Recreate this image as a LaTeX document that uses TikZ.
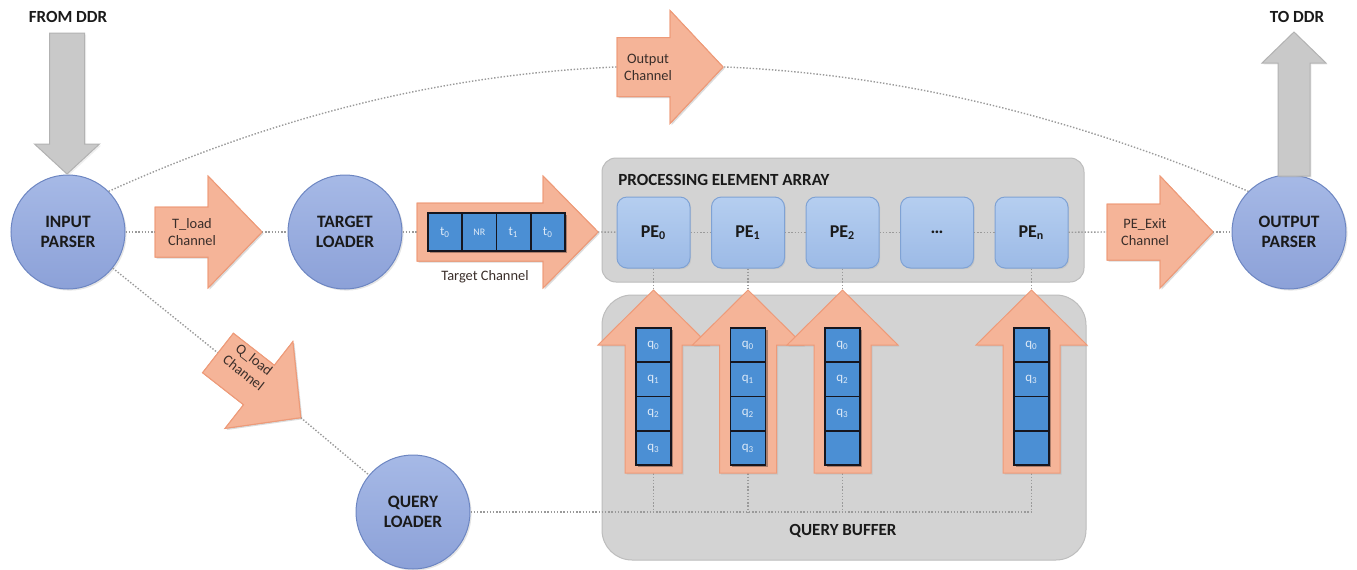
\documentclass[tikz,border=0pt]{standalone}
\usepackage{fontspec}
\setmainfont{Carlito}
\usetikzlibrary{shadows,calc}
\definecolor{oraFill}{HTML}{F5B498}
\definecolor{oraEdge}{HTML}{EE9A78}
\definecolor{cirTop}{HTML}{A6B9E6}
\definecolor{cirBot}{HTML}{8CA1D8}
\definecolor{cirEdge}{HTML}{6D86C2}
\definecolor{peTop}{HTML}{B5CEF0}
\definecolor{peBot}{HTML}{9CBAE6}
\definecolor{peEdge}{HTML}{7FA2D4}
\definecolor{boxFill}{HTML}{D3D3D3}
\definecolor{boxEdge}{HTML}{BDBDBD}
\definecolor{cellFill}{HTML}{4B8FD4}
\definecolor{cellEdge}{HTML}{16161F}
\definecolor{cellText}{HTML}{DCE9F7}
\definecolor{gryFill}{HTML}{C9C9C9}
\definecolor{gryEdge}{HTML}{B2B2B2}
\definecolor{dotCol}{HTML}{9A9A9A}
\definecolor{txt}{HTML}{1A1A1A}
\definecolor{lbltxt}{HTML}{3A2E2A}

\newcommand\chanarrow[8]{%
  \begin{scope}[shift={#2},rotate=#3]
    \path[#8] (0,-#6) -- (#4-#5,-#6) -- (#4-#5,-#7) -- (#4,0) -- (#4-#5,#7) -- (#4-#5,#6) -- (0,#6) -- cycle;
    \coordinate (#1-tail) at (0,0);
    \coordinate (#1-tip) at (#4,0);
  \end{scope}}

\tikzset{
  x=0.5pt, y=-0.5pt,
  dotline/.style={draw=dotCol, line width=0.7pt, dash pattern=on 0.7pt off 0.9pt},
  orarrow/.style={fill=oraFill, draw=oraEdge, line width=0.5pt,
    drop shadow={opacity=0.15, shadow xshift=0.8pt, shadow yshift=-0.8pt}},
  gryarrow/.style={fill=gryFill, draw=gryEdge, line width=0.5pt,
    drop shadow={opacity=0.12, shadow xshift=0.8pt, shadow yshift=-0.8pt}},
  circ/.style={circle, minimum size=57pt, inner sep=0pt, top color=cirTop, bottom color=cirBot,
    draw=cirEdge, line width=0.5pt, align=center, text=txt,
    font=\fontsize{8.7}{10.2}\selectfont\bfseries,
    drop shadow={opacity=0.2, shadow xshift=0.8pt, shadow yshift=-0.8pt}},
  pebox/.style={rectangle, rounded corners=5pt, minimum width=36.5pt, minimum height=35.5pt,
    top color=peTop, bottom color=peBot, draw=peEdge, line width=0.5pt, text=txt,
    font=\fontsize{9}{10}\selectfont\bfseries,
    drop shadow={opacity=0.15, shadow xshift=0.6pt, shadow yshift=-0.6pt}},
  greybox/.style={fill=boxFill, draw=boxEdge, line width=0.5pt},
  cell/.style={rectangle, fill=cellFill, draw=cellEdge, line width=0.8pt, inner sep=0pt,
    text=cellText, font=\fontsize{6.5}{7}\selectfont},
  hcell/.style={cell, minimum width=17.1pt, minimum height=19pt},
  vcell/.style={cell, minimum width=17.5pt, minimum height=17.1pt},
  chlabel/.style={align=center, text=lbltxt, font=\fontsize{7.2}{8.6}\selectfont, inner sep=0pt},
  title/.style={text=txt, font=\fontsize{8.5}{10}\selectfont\bfseries, inner sep=0pt},
  cellshadow/.style={fill=black, opacity=0.3},
}

\begin{document}
\begin{tikzpicture}
\useasboundingbox[fill=white] (0,0) rectangle (1357,569);

% grey containers
\path[greybox, rounded corners=7pt] (602,158) rectangle (1084,282);
\path[greybox, rounded corners=15pt] (602,295) rectangle (1086,560);
\node[title, anchor=west] (petitle) at (618,180) {PROCESSING ELEMENT ARRAY};
\node[title] (qbtitle) at (843,531) {QUERY BUFFER};

% main nodes
\node[circ] (ip) at (68,232) {INPUT\\PARSER};
\node[circ] (tl) at (345,232) {TARGET\\LOADER};
\node[circ] (ql) at (413,512) {QUERY\\LOADER};
\node[circ] (op) at (1289,232) {OUTPUT\\PARSER};

\node[pebox] (pe0) at (653.5,232.5) {PE\textsubscript{0}};
\node[pebox] (pe1) at (748,232.5) {PE\textsubscript{1}};
\node[pebox] (pe2) at (842.5,232.5) {PE\textsubscript{2}};
\node[pebox] (pe3) at (937,232.5) {\dots};
\node[pebox] (pen) at (1031.5,232.5) {PE\textsubscript{n}};

% channel arrow coordinates (shapes drawn again above the connectors)
\chanarrow{ta}{(155,232)}{0}{107}{54}{25}{56}{orarrow}
\chanarrow{tc}{(417,232)}{0}{181}{55}{29}{56}{orarrow}
\chanarrow{ea}{(1107,232)}{0}{106}{53}{28}{56}{orarrow}
\chanarrow{oc}{(617,67)}{0}{106}{53}{29.5}{56.5}{orarrow}
\chanarrow{qa}{(218,353)}{-38}{105}{53}{25}{55}{orarrow}
% DDR arrows
\chanarrow{fd}{(67,33)}{-90}{141}{30}{17.5}{32.5}{gryarrow}
\chanarrow{td}{(1294,176)}{90}{144}{31}{16}{32}{gryarrow}

\coordinate (qb) at (1031.5,512);

% dotted connectors
\draw[dotline] (ip.45) .. controls (478,24) and (857,24) .. (op.135);
\draw[dotline] (ip) -- (ta-tail);
\draw[dotline] (ta-tip) -- (tl);
\draw[dotline] (tl) -- (tc-tail);
\draw[dotline] (tc-tip) -- (pe0);
\draw[dotline] (pe0) -- (pe1);
\draw[dotline] (pe1) -- (pe2);
\draw[dotline] (pe2) -- (pe3);
\draw[dotline] (pe3) -- (pen);
\draw[dotline] (pen) -- (ea-tail);
\draw[dotline] (ea-tip) -- (op);
\draw[dotline] (ip) -- (qa-tail);
\draw[dotline] (qa-tip) -- (ql);
\draw[dotline] (ql) -- (qb);
\draw[dotline] (pe0.south) -- (pe0.south |- qb);
\draw[dotline] (pe1.south) -- (pe1.south |- qb);
\draw[dotline] (pe2.south) -- (pe2.south |- qb);
\draw[dotline] (pen.south) -- (qb);

% arrows above the dotted lines
\chanarrow{ta}{(155,232)}{0}{107}{54}{25}{56}{orarrow}
\chanarrow{tc}{(417,232)}{0}{181}{55}{29}{56}{orarrow}
\chanarrow{ea}{(1107,232)}{0}{106}{53}{28}{56}{orarrow}
\chanarrow{oc}{(617,67)}{0}{106}{53}{29.5}{56.5}{orarrow}
\chanarrow{qa}{(218,353)}{-38}{105}{53}{25}{55}{orarrow}
\chanarrow{q0}{(653.5,473)}{90}{183}{55}{28.5}{55.5}{orarrow}
\chanarrow{q1}{(748,473)}{90}{183}{55}{28.5}{55.5}{orarrow}
\chanarrow{q2}{(842.5,473)}{90}{183}{55}{28.5}{55.5}{orarrow}
\chanarrow{qn}{(1031.5,473)}{90}{183}{55}{28.5}{55.5}{orarrow}

% labels
\node[chlabel] (tal) at (192,232) {T\_load\\Channel};
\node[chlabel] (eal) at (1145,232) {PE\_Exit\\Channel};
\node[chlabel] (ocl) at (648,67) {Output\\Channel};
\node[chlabel, rotate=-38] (qal) at (249,366) {Q\_load\\Channel};
\node[chlabel] (tcl) at (485,277) {Target Channel};
\node[title] (fromddr) at (68,17) {FROM DDR};
\node[title] (toddr) at (1297,17) {TO DDR};

% target channel cells
\fill[cellshadow] (429.5,214.5) rectangle (566.5,252.5);
\node[hcell] (t0) at (445.1,232) {t\textsubscript{0}};
\node[hcell] (t1) at (479.4,232) {\fontsize{5}{6}\selectfont NR};
\node[hcell] (t2) at (513.6,232) {t\textsubscript{1}};
\node[hcell] (t3) at (547.9,232) {t\textsubscript{0}};

% query cells
\foreach \cx/\nm/\la/\lb/\lc/\ld in {653.5/a/q\textsubscript{0}/q\textsubscript{1}/q\textsubscript{2}/q\textsubscript{3},
                            748/b/q\textsubscript{0}/q\textsubscript{1}/q\textsubscript{2}/q\textsubscript{3},
                            842.5/c/q\textsubscript{0}/q\textsubscript{2}/q\textsubscript{3}/{},
                            1031.5/d/q\textsubscript{0}/q\textsubscript{3}/{}/{}}{
  \fill[cellshadow] (\cx-16,330) rectangle (\cx+19.5,467);
  \node[vcell] (c\nm0) at (\cx,345.1) {\la};
  \node[vcell] (c\nm1) at (\cx,379.4) {\lb};
  \node[vcell] (c\nm2) at (\cx,413.6) {\lc};
  \node[vcell] (c\nm3) at (\cx,447.9) {\ld};
}
\end{tikzpicture}
\end{document}
